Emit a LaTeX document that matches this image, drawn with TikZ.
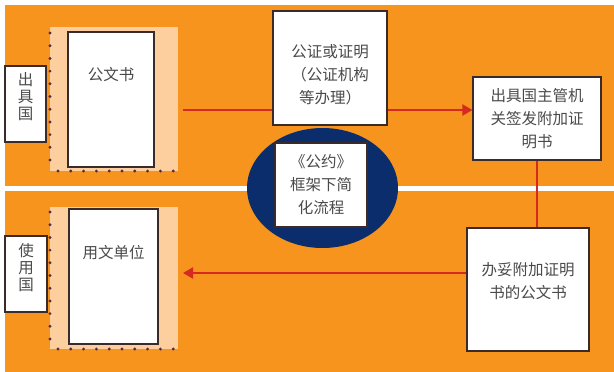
\documentclass[tikz,border=0pt]{standalone}
\usepackage{fontspec}
\newfontfamily\cjk{Noto Sans CJK SC}
\usetikzlibrary{arrows.meta,shapes.geometric}
\definecolor{bgorange}{HTML}{F7941D}
\definecolor{peach}{HTML}{FDCF9E}
\definecolor{navy}{HTML}{0B2D6B}
\definecolor{linered}{HTML}{D42A22}
\definecolor{boxline}{HTML}{3A2A2A}
\definecolor{txtc}{HTML}{4A4A4A}
\definecolor{dotc}{HTML}{5A2A40}
\begin{document}
\begin{tikzpicture}[x=1pt,y=-1pt,
  whitebox/.style={draw=boxline,line width=1.1pt,fill=white,inner sep=0pt,rectangle},
  peachbox/.style={fill=peach,draw=none,inner sep=0pt,rectangle},
  label/.style={inner sep=0pt,align=center,text=txtc,font=\cjk\fontsize{15.5}{23}\selectfont},
  vlabel/.style={inner sep=0pt,align=center,text=txtc,font=\cjk\fontsize{15.5}{17}\selectfont},
  flow/.style={draw=linered,line width=2pt,-{Triangle[length=10pt,width=11pt]}},
  plainflow/.style={draw=linered,line width=2pt}]
\useasboundingbox (0,0) rectangle (614,372);
\fill[bgorange] (5,5) rectangle (614,372);
\fill[white] (5,186) rectangle (614,191);

% top left document
\node[peachbox,minimum width=128pt,minimum height=144pt] (peach1) at (114,99) {};
\foreach \y in {33,45.7,58.4,71.1,83.8,96.5,109.2,121.9,134.6,147.3,160}
  \fill[dotc] (50,\y) circle (1.6);
\foreach \x in {58,70.8,83.6,96.4,109.2,122,134.8,147.6,160.4,173.2}
  \fill[dotc] (\x,171) circle (1.6);
\node[whitebox,minimum width=86pt,minimum height=135pt] (page1) at (111,99.5) {};
\node[label] (t1) at (111,75) {公文书};
\node[whitebox,minimum width=41pt,minimum height=76pt] (c1) at (25.5,104) {};
\node[vlabel] (tc1) at (25.5,97) {出\\具\\国};

% bottom left document
\node[peachbox,minimum width=128pt,minimum height=142pt] (peach2) at (114,278) {};
\foreach \y in {212,224.7,237.4,250.1,262.8,275.5,288.2,300.9,313.6,326.3,339}
  \fill[dotc] (50,\y) circle (1.6);
\foreach \x in {58,70.8,83.6,96.4,109.2,122,134.8,147.6,160.4,173.2}
  \fill[dotc] (\x,349) circle (1.6);
\node[whitebox,minimum width=89pt,minimum height=135pt] (page2) at (113.5,276.5) {};
\node[label] (t2) at (113.5,253) {用文单位};
\node[whitebox,minimum width=42pt,minimum height=76pt] (c2) at (26,274) {};
\node[vlabel] (tc2) at (26,268) {使\\用\\国};

% right column
\node[whitebox,minimum width=128pt,minimum height=83pt] (issue) at (537,118.5) {};
\node[label] (tissue) at (537,118.5) {出具国主管机\\关签发附加证\\明书};
\node[whitebox,minimum width=122pt,minimum height=123pt] (doc) at (528,289.5) {};
\node[label] (tdoc) at (528,281.5) {办妥附加证明\\书的公文书};

% connectors
\coordinate (a1) at (183,110);
\draw[flow] (a1) -- (a1 -| issue.west);
\draw[plainflow] (issue.south) -- (issue.south |- doc.north);
\coordinate (a2) at (183,273);
\draw[flow] (a2 -| doc.west) -- (a2);

% middle
\node[whitebox,minimum width=114pt,minimum height=114pt] (notary) at (330,68) {};
\node[label] (tnotary) at (330,75) {公证或证明\\（公证机构\\等办理）};
\node[ellipse,fill=navy,draw=none,minimum width=151pt,minimum height=120pt,inner sep=0pt] (oval) at (322.5,188) {};
\node[whitebox,minimum width=92pt,minimum height=84pt] (conv) at (321,185) {};
\node[label] (tconv) at (321,185) {《公约》\\框架下简\\化流程};
\end{tikzpicture}
\end{document}
